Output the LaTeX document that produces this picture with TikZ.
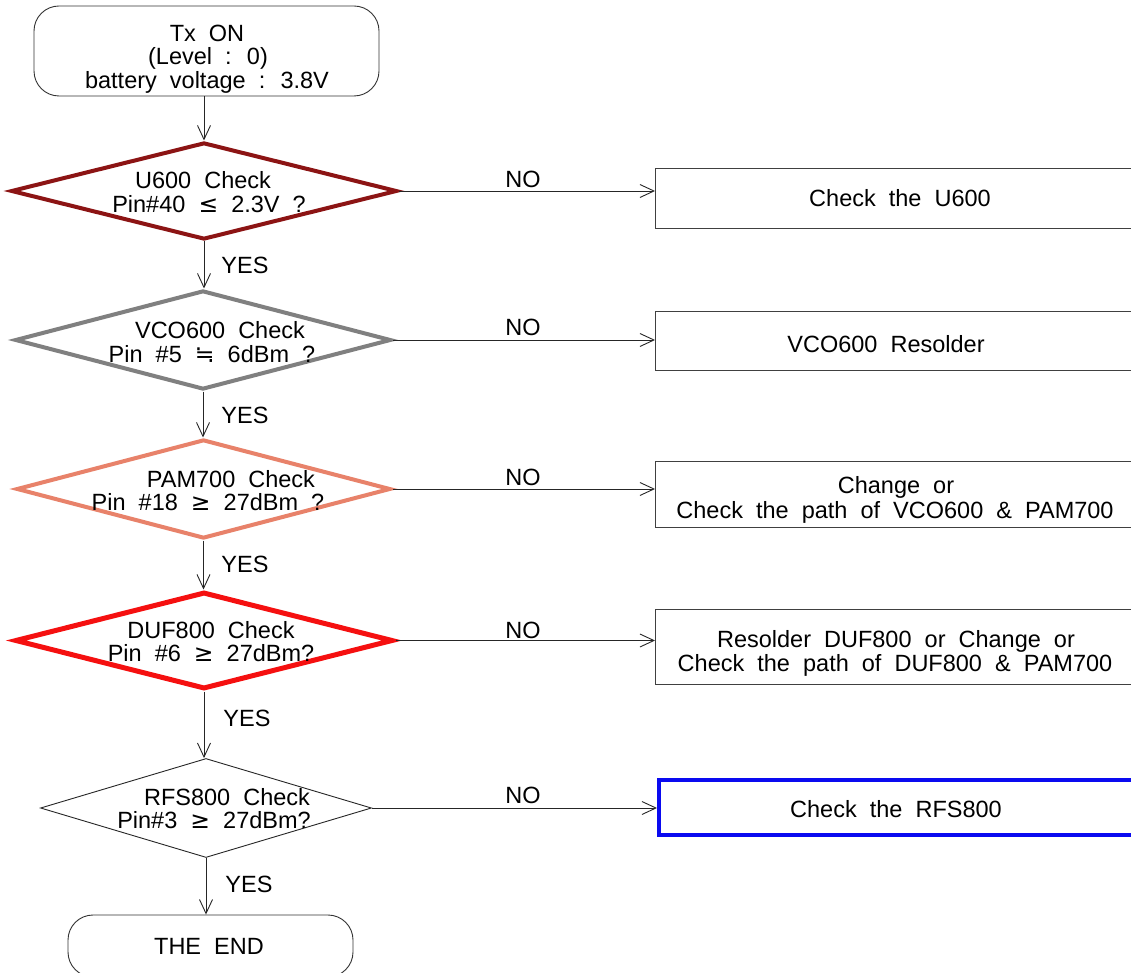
\documentclass[tikz,border=0pt]{standalone}
\usepackage{fontspec}
\setmainfont{Liberation Sans}[WordSpace=2]
\newfontfamily\symf{DejaVu Sans}
\usetikzlibrary{arrows.meta,shapes.geometric}
\definecolor{dred}{RGB}{140,20,20}
\definecolor{dgray}{RGB}{128,128,128}
\definecolor{salmon}{RGB}{232,130,106}
\definecolor{bred}{RGB}{245,16,16}
\definecolor{bblue}{RGB}{10,10,240}
\tikzset{
  lab/.style={font=\fontsize{23.5}{24}\selectfont, inner sep=0pt, anchor=base},
  dia/.style={shape=diamond, inner sep=0pt},
  term/.style={draw=black!80, line width=0.9pt, rounded corners=25pt, inner sep=0pt},
  actbox/.style={draw=black!75, line width=1pt, inner sep=0pt, anchor=west},
  arr/.style={draw=black!85, line width=0.9pt, -{Straight Barb[length=14pt,width=13pt]}},
}
\begin{document}
\begin{tikzpicture}[x=1pt,y=-1pt]
\useasboundingbox (0,0) rectangle (1131,973);
\clip (0,0) rectangle (1131,973);
\fill[white] (0,0) rectangle (1131,973);

% terminals
\node[term, minimum width=345, minimum height=90] (start) at (206.5,51) {};
\node[lab] (t1) at (207,42) {Tx ON};
\node[lab] (t2) at (208,65) {(Level : 0)};
\node[lab] (t3) at (207,89) {battery voltage : 3.8V};

\node[term, minimum width=285, minimum height=62] (endb) at (210.5,946) {};
\node[lab] (te) at (209,954) {THE END};

% decisions
\node[dia, draw=dred, line width=4pt, minimum width=386, minimum height=97] (d1) at (204,191) {};
\node[lab] (d1a) at (203,189) {U600 Check};
\node[lab] (d1b) at (209,213) {Pin\#40 {\symf ≤} 2.3V ?};

\node[dia, draw=dgray, line width=4pt, minimum width=376, minimum height=99] (d2) at (203,340) {};
\node[lab] (d2a) at (220,338) {VCO600 Check};
\node[lab] (d2b) at (212,362) {Pin \#5 {\symf ≒} 6dBm ?};

\node[dia, draw=salmon, line width=4pt, minimum width=374, minimum height=99] (d3) at (203.5,489) {};
\node[lab] (d3a) at (231,487) {PAM700 Check};
\node[lab] (d3b) at (208,510) {Pin \#18 {\symf ≥} 27dBm ?};

\node[dia, draw=bred, line width=5pt, minimum width=378, minimum height=97] (d4) at (204,640.5) {};
\node[lab] (d4a) at (211,638) {DUF800 Check};
\node[lab] (d4b) at (211,661) {Pin \#6 {\symf ≥} 27dBm?};

\node[dia, draw=black!85, line width=0.9pt, minimum width=331, minimum height=99] (d5) at (206,808) {};
\node[lab] (d5a) at (227,805) {RFS800 Check};
\node[lab] (d5b) at (214,828) {Pin\#3 {\symf ≥} 27dBm?};

% action boxes
\node[actbox, minimum width=500, minimum height=60] (b1) at (655,199) {};
\node[lab] (b1t) at (900,207) {Check the U600};
\node[actbox, minimum width=500, minimum height=59] (b2) at (655,340.5) {};
\node[lab] (b2t) at (886,352) {VCO600 Resolder};
\node[actbox, minimum width=500, minimum height=66] (b3) at (655,494) {};
\node[lab] (b3a) at (896,493) {Change or};
\node[lab] (b3b) at (895,518) {Check the path of VCO600 \& PAM700};
\node[actbox, minimum width=500, minimum height=75] (b4) at (655,646.5) {};
\node[lab] (b4a) at (896,647) {Resolder DUF800 or Change or};
\node[lab] (b4b) at (895,671) {Check the path of DUF800 \& PAM700};
\node[actbox, draw=bblue, line width=4pt, minimum width=500, minimum height=55] (b5) at (657,807.5) {};
\node[lab] (b5t) at (896,817) {Check the RFS800};

% vertical connectors
\draw[arr] (start.south -| d1.north) -- (d1.north);
\draw[arr] (d1.south) -- (d1.south |- d2.north);
\draw[arr] (d2.south) -- (d2.south |- d3.north);
\draw[arr] (d3.south) -- (d3.south |- d4.north);
\draw[arr] (d4.south) -- (d4.south |- d5.north);
\draw[arr] (d5.south) -- (d5.south |- endb.north);

\node[lab] (y1) at (245,274) {YES};
\node[lab] (y2) at (245,423) {YES};
\node[lab] (y3) at (245,572) {YES};
\node[lab] (y4) at (247,726) {YES};
\node[lab] (y5) at (249,892) {YES};

% horizontal connectors
\draw[arr] (d1.east) -- (d1.east -| b1.west);
\draw[arr] (d2.east) -- (d2.east -| b2.west);
\draw[arr] (d3.east) -- (d3.east -| b3.west);
\draw[arr] (d4.east) -- (d4.east -| b4.west);
\draw[arr] (d5.east) -- (d5.east -| b5.west);

\node[lab] (n1) at (523,188) {NO};
\node[lab] (n2) at (523,335) {NO};
\node[lab] (n3) at (523,485) {NO};
\node[lab] (n4) at (523,638) {NO};
\node[lab] (n5) at (523,803) {NO};
\end{tikzpicture}
\end{document}
